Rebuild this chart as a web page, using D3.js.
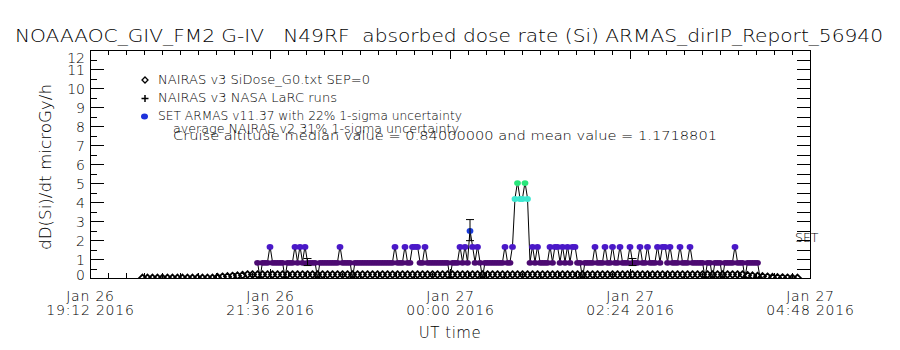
<!DOCTYPE html>
<html><head><meta charset="utf-8">
<script src="https://cdn.jsdelivr.net/npm/d3@7"></script>
<style>
body{margin:0;background:#fff}
svg{display:block}
text{font-family:"DejaVu Sans",sans-serif;font-weight:200;fill:#000}
</style>
</head><body>
<svg id="c" width="900" height="350"></svg>
<script>
// ---------------- data ----------------
const titleText = "NOAAAOC_GIV_FM2 G-IV   N49RF  absorbed dose rate (Si) ARMAS_dirIP_Report_56940";
const yLabelText = "dD(Si)/dt microGy/h";
const xLabelText = "UT time";
const rightLabelText = "SET";
const yTickValues = [0,1,2,3,4,5,6,7,8,9,10,11,12];
const yTickLabels = ["0","1","2","3","4","5","6","7","8","9","10","11","12"];
const xTickTimes = ["2016-01-26T19:12:00Z","2016-01-26T21:36:00Z","2016-01-27T00:00:00Z","2016-01-27T02:24:00Z","2016-01-27T04:48:00Z"];
const xTickLabels = [["Jan 26","19:12 2016"],["Jan 26","21:36 2016"],["Jan 27","00:00 2016"],["Jan 27","02:24 2016"],["Jan 27","04:48 2016"]];
const legendLabels = [
  "NAIRAS v3 SiDose_G0.txt SEP=0",
  "NAIRAS v3 NASA LaRC runs",
  "SET ARMAS v11.37 with 22% 1-sigma uncertainty",
  "average NAIRAS v2 31% 1-sigma uncertainty",
  "Cruise altitude median value = 0.84000000 and mean value = 1.1718801"
];

// ARMAS measured dose rate, 2-minute cadence from 21:26 UT
const armasStart = "2016-01-26T21:26:00Z";
const armasStepMin = 2;
const armasDose = [
 0.84,0,0.84,0.84,0.84,1.68,0.84,0.84,0.84,0.84,
 0.84,0,0.84,0.84,0.84,1.68,0.84,1.68,0.84,1.68,
 0.84,0.84,0.84,0.84,0,0.84,0.84,0.84,0.84,0.84,
 0.84,0.84,0.84,1.68,0.84,0.84,0.84,0.84,0,0.84,
 0.84,0.84,0.84,0.84,0.84,0.84,0.84,0.84,0.84,0.84,
 0.84,0.84,0.84,0.84,0.84,1.68,0.84,0.84,0.84,1.68,
 0.84,0.84,1.68,1.68,1.68,0.84,0.84,1.68,0.84,0.84,
 0.84,0.84,0.84,0.84,0.84,0.84,0.84,0,0.84,0.84,
 0.84,1.68,0.84,1.68,0.84,2.52,1.68,0.84,1.68,0.84,
 0,0.84,0.84,0.84,0.84,0.84,0.84,0.84,0.84,1.68,
 0.84,0.84,1.68,4.2,5.04,4.2,4.2,5.04,4.2,0.84,
 1.68,0.84,1.68,0.84,0.84,0.84,0.84,1.68,0.84,1.68,
 1.68,0.84,1.68,0.84,1.68,0.84,1.68,1.68,0.84,0.84,
 0,0.84,0.84,0.84,0.84,1.68,0.84,0.84,0.84,1.68,
 0.84,0.84,1.68,0.84,0.84,1.68,0.84,0.84,0.84,1.68,
 0.84,0.84,0.84,1.68,0.84,0.84,1.68,0.84,0.84,0.84,
 1.68,0.84,1.68,1.68,0.84,1.68,0.84,0.84,0.84,1.68,
 0.84,0.84,0.84,1.68,0.84,0.84,0.84,0.84,0.84,0,
 0.84,0.84,0,0.84,0.84,0.84,0,0.84,0.84,0.84,
 0.84,1.68,0.84,0.84,0.84,0,0.84,0.84,0.84,0.84,
 0.84,0
];
const armasErrorIdx = [20, 85, 150];
const armasUncertainty = 0.22;
const doseLevels = [0, 0.84, 1.68, 2.52, 4.2, 5.04];
const levelColors = ["#000000", "#4c0a72", "#4a18c8", "#1a3cdc", "#3ce8d0", "#28e67a"];
const legendDotColor = "#1e32dc";

// NAIRAS model dose rate, 4-minute cadence from 19:54 UT
const nairasStart = "2016-01-26T19:54:00Z";
const nairasStepMin = 4;
const nairasDose = [
 0,0,0,0,0,0,0,0,0,0,
 0,0,0,0,0,0.04,0.06,0.08,0.1,0.12,
 0.15,0.18,0.18,0.18,0.18,0.18,0.18,0.18,0.18,0.18,
 0.18,0.18,0.18,0.18,0.18,0.18,0.18,0.18,0.18,0.18,
 0.18,0.18,0.18,0.18,0.18,0.18,0.18,0.18,0.18,0.18,
 0.18,0.18,0.18,0.18,0.18,0.18,0.18,0.18,0.18,0.18,
 0.18,0.18,0.18,0.18,0.18,0.18,0.18,0.18,0.18,0.18,
 0.18,0.18,0.18,0.18,0.18,0.18,0.18,0.18,0.18,0.18,
 0.18,0.18,0.18,0.18,0.18,0.18,0.18,0.18,0.18,0.18,
 0.18,0.18,0.18,0.18,0.18,0.18,0.18,0.18,0.18,0.18,
 0.18,0.18,0.18,0.18,0.18,0.18,0.18,0.18,0.18,0.18,
 0.18,0.18,0.18,0.18,0.18,0.18,0.18,0.18,0.18,0.18,
 0.18,0.14,0.12,0.1,0.08,0.06,0.04,0.03,0.02,0.01,
 0,0
];

// ---------------- drawing ----------------
const svg = d3.select("#c");
const L = 90, R = 810, T = 50, B = 278;
const x = d3.scaleUtc().domain([new Date(xTickTimes[0]), new Date(xTickTimes[xTickTimes.length-1])]).range([L, R]);
const y = d3.scaleLinear().domain([0, 12]).range([B, T]);
const colorOf = d3.scaleOrdinal().domain(doseLevels).range(levelColors);

svg.append("defs").append("clipPath").attr("id","clip")
  .append("rect").attr("x",L).attr("y",T).attr("width",R-L).attr("height",B-T);

// Title
svg.append("text").attr("x",15).attr("y",42).style("white-space","pre")
  .attr("font-size",18).attr("font-weight",400).attr("fill","#111").attr("textLength",868).attr("lengthAdjust","spacingAndGlyphs")
  .style("font-weight","200")
  .text(titleText);

// axes
const minorX = d3.range(0, 41).map(i => new Date(+new Date(xTickTimes[0]) + i*14.4*60000));
const majorX = xTickTimes.map(s => new Date(s));
const halfY = d3.range(0, 25).map(i => i*0.5);

function styleAxis(g){ g.selectAll("path,line").attr("stroke","#000").attr("stroke-width",1).attr("shape-rendering","crispEdges"); }

// left
const gl = svg.append("g").attr("transform",`translate(${L},0)`)
  .call(d3.axisLeft(y).tickValues(yTickValues).tickFormat((d,i)=>yTickLabels[i]).tickSizeInner(-14).tickSizeOuter(0).tickPadding(5));
gl.call(styleAxis);
gl.selectAll("text").attr("font-size",14).attr("font-family","DejaVu Sans").attr("font-weight",200)
  .attr("dy", d => d===12 ? "0.88em" : (d===0 ? "0.1em" : "0.36em"));
svg.append("g").attr("transform",`translate(${L},0)`)
  .call(d3.axisLeft(y).tickValues(halfY).tickFormat("").tickSizeInner(-7).tickSizeOuter(0)).call(styleAxis);
// right
svg.append("g").attr("transform",`translate(${R},0)`)
  .call(d3.axisRight(y).tickValues(halfY).tickFormat("").tickSizeInner(-13).tickSizeOuter(0)).call(styleAxis);
// top
svg.append("g").attr("transform",`translate(0,${T})`)
  .call(d3.axisTop(x).tickValues(minorX).tickFormat("").tickSizeInner(-5).tickSizeOuter(0)).call(styleAxis);
svg.append("g").attr("transform",`translate(0,${T})`)
  .call(d3.axisTop(x).tickValues(majorX).tickFormat("").tickSizeInner(-9).tickSizeOuter(0)).call(styleAxis);
// bottom
svg.append("g").attr("transform",`translate(0,${B})`)
  .call(d3.axisBottom(x).tickValues(minorX).tickFormat("").tickSizeInner(-5).tickSizeOuter(0)).call(styleAxis);
const gb = svg.append("g").attr("transform",`translate(0,${B})`)
  .call(d3.axisBottom(x).tickValues(majorX).tickFormat("").tickSizeInner(-9).tickSizeOuter(0));
gb.call(styleAxis);
gb.selectAll(".tick").each(function(d,i){
  const t = d3.select(this).select("text");
  t.attr("y",0).attr("dy",null).attr("font-size",14).attr("font-family","DejaVu Sans").attr("font-weight",200).attr("letter-spacing",0.8);
  t.append("tspan").attr("x",0).attr("y",23).text(xTickLabels[i][0]);
  t.append("tspan").attr("x",0).attr("y",37).text(xTickLabels[i][1]);
});

// axis titles
svg.append("text").attr("x",450).attr("y",338).attr("text-anchor","middle").attr("font-size",15).attr("letter-spacing",0.5).text(xLabelText);
svg.append("text").attr("transform","translate(51,167) rotate(-90)").attr("text-anchor","middle")
  .attr("font-size",15).attr("textLength",166).attr("lengthAdjust","spacingAndGlyphs").text(yLabelText);
svg.append("text").attr("x",795).attr("y",242).attr("font-size",12.5).text(rightLabelText);

// data
const plot = svg.append("g").attr("clip-path","url(#clip)");
const nairas = nairasDose.map((v,i)=>({t:new Date(+new Date(nairasStart)+i*nairasStepMin*60000), v}));
const armas = armasDose.map((v,i)=>({t:new Date(+new Date(armasStart)+i*armasStepMin*60000), v, i}));

// NAIRAS hollow diamonds
plot.append("g").selectAll("path").data(nairas).join("path")
  .attr("d", d => { const cx=x(d.t), cy=y(d.v), s=3.4; return `M${cx},${cy-s}L${cx+s},${cy}L${cx},${cy+s}L${cx-s},${cy}Z`; })
  .attr("fill","none").attr("stroke","#000").attr("stroke-width",1.8);

// ARMAS line
plot.append("path").datum(armas)
  .attr("d", d3.line().x(d=>x(d.t)).y(d=>y(d.v)))
  .attr("fill","none").attr("stroke","#000").attr("stroke-width",1);
// ARMAS markers
plot.append("g").selectAll("ellipse").data(armas).join("ellipse")
  .attr("cx",d=>x(d.t)).attr("cy",d=>y(d.v)+0.8).attr("rx",3.4).attr("ry",2.9)
  .attr("fill",d=>colorOf(d.v));
// error bars
const eb = plot.append("g").attr("stroke","#000").attr("stroke-width",1);
armasErrorIdx.forEach(k => {
  const d = armas[k], cx = x(d.t);
  const y1 = y(d.v*(1+armasUncertainty)), y2 = y(d.v*(1-armasUncertainty));
  eb.append("line").attr("x1",cx).attr("x2",cx).attr("y1",y1).attr("y2",y2);
  eb.append("line").attr("x1",cx-4).attr("x2",cx+4).attr("y1",y1).attr("y2",y1);
  eb.append("line").attr("x1",cx-4).attr("x2",cx+4).attr("y1",y2).attr("y2",y2);
});

// legend
const lg = svg.append("g");
lg.append("path").attr("d","M145,77L148,80L145,83L142,80Z").attr("fill","none").attr("stroke","#000").attr("stroke-width",1.3);
lg.append("path").attr("d","M141.5,98.5H148.5M145,95V102").attr("stroke","#000").attr("stroke-width",1.5);
lg.append("ellipse").attr("cx",144.5).attr("cy",116.5).attr("rx",3.5).attr("ry",3).attr("fill",legendDotColor);
const legPos = [[158,84,212],[158,102,179],[158,120,304],[173,133,286],[173,140,544]];
legendLabels.forEach((s,i)=>{
  lg.append("text").attr("x",legPos[i][0]).attr("y",legPos[i][1]).attr("font-size",11.5)
    .attr("textLength",legPos[i][2]).attr("lengthAdjust","spacingAndGlyphs").text(s);
});
</script>
</body></html>
